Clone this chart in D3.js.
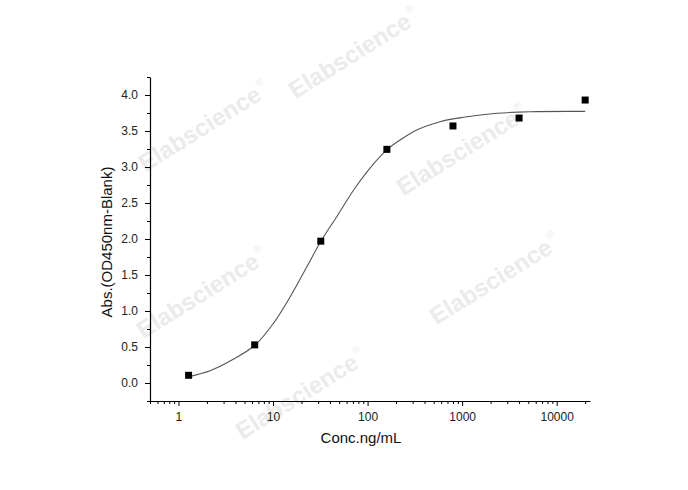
<!DOCTYPE html>
<html>
<head>
<meta charset="utf-8">
<script src="https://cdn.jsdelivr.net/npm/d3@7"></script>
<style>
  body { margin: 0; background: #fff; }
  svg { display: block; }
  text { font-family: "Liberation Sans", Arial, sans-serif; }
</style>
</head>
<body>
<div id="chart"></div>
<script>
// standard points (ng/mL, OD)
var concValues = [1.28, 6.4, 32, 160, 800, 4000, 20000];
var absValues = [0.107, 0.53, 1.97, 3.245, 3.57, 3.68, 3.93];

// fitted curve
var fitConc = [1.28, 2.16, 3.67, 6.47, 10.1, 15.2, 22.8, 32.2, 47.2, 73.7, 115, 162, 221, 331, 584, 1030, 2320, 5220, 20000];
var fitAbs = [0.088, 0.171, 0.319, 0.528, 0.829, 1.199, 1.616, 1.972, 2.31, 2.708, 3.04, 3.245, 3.375, 3.514, 3.629, 3.69, 3.746, 3.768, 3.772];

var xMajor = [1, 10, 100, 1000, 10000];
var yMajor = [0, 0.5, 1, 1.5, 2, 2.5, 3, 3.5, 4];
var yMinor = [-0.25, 0.25, 0.75, 1.25, 1.75, 2.25, 2.75, 3.25, 3.75, 4.25];

var width = 688, height = 490;
var plot = {left: 150, right: 590, top: 77, bottom: 401};

var svg = d3.select("#chart")
    .append("svg")
    .attr("width", width)
    .attr("height", height)

svg.append("rect").attr("width", width).attr("height", height).attr("fill", "#fff")

var x = d3.scaleLog().domain([0.5, 22500]).range([plot.left, plot.right]);
var y = d3.scaleLinear().domain([-0.25, 4.25]).range([plot.bottom, plot.top]);

// watermarks
var marks = [[355, 55], [205, 128], [463, 152], [203, 295], [496, 281], [302, 396]];
var wm = svg.append("g")
marks.forEach(function(m) {
  var t = wm.append("text")
      .attr("transform", "translate(" + m[0] + "," + m[1] + ") rotate(-32)")
      .attr("text-anchor", "middle")
      .attr("dominant-baseline", "middle")
      .attr("font-size", 24)
      .attr("font-weight", "bold")
      .attr("fill", "#ebebeb")
  t.append("tspan").text("Elabscience")
  t.append("tspan").text("®").attr("font-size", 10).attr("font-weight", "normal").attr("dy", -10).attr("dx", 2)
})

// minor x ticks
var xMinor = [];
[-1, 0, 1, 2, 3, 4].forEach(function(p) {
  for (var k = 2; k <= 9; k++) {
    var v = k * Math.pow(10, p);
    if (v >= 0.5 && v <= 22500) xMinor.push(v);
  }
})

var xAxisMinor = svg.append("g")
    .attr("transform", "translate(0," + plot.bottom + ")")
    .call(d3.axisBottom(x).tickValues(xMinor).tickSize(3).tickFormat(""))
xAxisMinor.select(".domain").remove()

var xAxis = svg.append("g")
    .attr("transform", "translate(0," + plot.bottom + ")")
    .call(d3.axisBottom(x).tickValues(xMajor).tickSize(5).tickSizeOuter(0).tickPadding(6).tickFormat(d3.format("d")))
xAxis.selectAll("text").attr("font-size", 12).attr("fill", "#222").style("font-family", "Liberation Sans, Arial, sans-serif")

var yAxisMinor = svg.append("g")
    .attr("transform", "translate(" + plot.left + ",0)")
    .call(d3.axisLeft(y).tickValues(yMinor).tickSize(3).tickFormat(""))
yAxisMinor.select(".domain").remove()

var yAxis = svg.append("g")
    .attr("transform", "translate(" + plot.left + ",0)")
    .call(d3.axisLeft(y).tickValues(yMajor).tickSize(5).tickSizeOuter(0).tickPadding(7).tickFormat(d3.format(".1f")))
yAxis.selectAll("text").attr("font-size", 12).attr("fill", "#222").style("font-family", "Liberation Sans, Arial, sans-serif")

svg.selectAll(".domain").attr("stroke-width", 1.2)
svg.selectAll(".tick line").attr("stroke-width", 1)

// fitted curve
var line = d3.line()
    .x(function(d) { return x(d[0]); })
    .y(function(d) { return y(d[1]); })
    .curve(d3.curveCatmullRom.alpha(0.5))

svg.append("path")
    .datum(d3.zip(fitConc, fitAbs))
    .attr("d", line)
    .attr("fill", "none")
    .attr("stroke", "#555")
    .attr("stroke-width", 1.1)

// points
var sq = 7;
svg.selectAll(".pt")
    .data(d3.zip(concValues, absValues))
    .enter().append("rect")
      .attr("class", "pt")
      .attr("x", function(d) { return x(d[0]) - sq / 2; })
      .attr("y", function(d) { return y(d[1]) - sq / 2; })
      .attr("width", sq)
      .attr("height", sq)
      .attr("fill", "#000")

// axis titles
svg.append("text")
    .text("Conc.ng/mL")
    .attr("x", 361)
    .attr("y", 443)
    .attr("text-anchor", "middle")
    .attr("font-size", 15)
    .attr("fill", "#111")

svg.append("text")
    .text("Abs.(OD450nm-Blank)")
    .attr("transform", "translate(112,242) rotate(-90)")
    .attr("text-anchor", "middle")
    .attr("font-size", 15)
    .attr("fill", "#111")
</script>
</body>
</html>
